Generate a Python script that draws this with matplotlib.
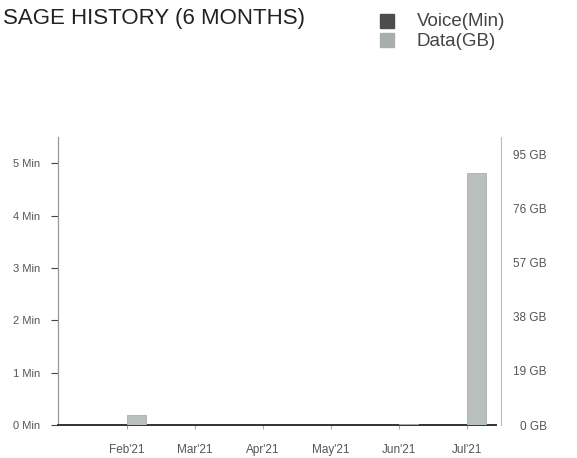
import numpy as np
import matplotlib.pyplot as plt
from matplotlib.patches import Rectangle

plt.rcParams['font.family'] = ['Liberation Sans', 'DejaVu Sans']

# data
months = ["Feb'21", "Mar'21", "Apr'21", "May'21", "Jun'21", "Jul'21"]
voice_min = [0, 0, 0, 0, 0, 0]
data_gb = [3.5, 0, 0, 0, 0.4, 88.7]
min_ticks = [0, 1, 2, 3, 4, 5]
min_labels = ["0 Min", "1 Min", "2 Min", "3 Min", "4 Min", "5 Min"]
gb_ticks = [0, 19, 38, 57, 76, 95]
gb_labels = ["0 GB", "19 GB", "38 GB", "57 GB", "76 GB", "95 GB"]

voice_col = "#4d4d4d"
data_col = "#b9c0bc"
tick_col = "#555555"

fig = plt.figure(figsize=(5.77, 4.58), dpi=100)
ax = fig.add_axes([0.1005, 0.072, 0.7675, 0.629])
ax2 = ax.twinx()

x = np.arange(len(months))
w = 0.28
ax.bar(x - w, voice_min, width=w, align='edge', color=voice_col)
ax2.bar(x, data_gb, width=w, align='edge', color=data_col, edgecolor="#a9b0ac", linewidth=0.6)

ax.set_xlim(-1.01, 5.5)
ax.set_ylim(0, 5.5)
ax2.set_ylim(0, 101.3)

ax.set_xticks(x)
ax.set_xticklabels(months)
ax.set_yticks(min_ticks)
ax.set_yticklabels(min_labels)
ax2.set_yticks(gb_ticks)
ax2.set_yticklabels(gb_labels, ha='right')

ax.tick_params(axis='x', length=3, color="#aaaaaa", pad=11, labelsize=8.5, labelcolor=tick_col)
ax.tick_params(axis='y', length=5, color="#444444", pad=8, labelsize=8, labelcolor=tick_col)
ax2.tick_params(axis='y', length=0, pad=33, labelsize=8.5, labelcolor=tick_col)

for a in (ax, ax2):
    a.spines['top'].set_visible(False)
    a.spines['left'].set_visible(False)
    a.spines['right'].set_visible(False)
    a.spines['bottom'].set_visible(False)
ax.spines['left'].set_visible(True)
ax.spines['left'].set_color("#999999")
ax.spines['left'].set_linewidth(0.9)
ax.spines['bottom'].set_visible(True)
ax.spines['bottom'].set_color("#333333")
ax.spines['bottom'].set_linewidth(1.4)
ax.spines['bottom'].set_bounds(-1.01, 5.43)
ax2.spines['right'].set_visible(True)
ax2.spines['right'].set_color("#bbbbbb")
ax2.spines['right'].set_linewidth(0.8)
ax2.spines['right'].set_linestyle((0, (2, 1)))

fig.text(0.005, 0.9476, "SAGE HISTORY (6 MONTHS)", fontsize=16, color="#222222", va='baseline')

# legend
fig.add_artist(Rectangle((380 / 577, 1 - 28 / 458), 14 / 577, 14 / 458,
                         transform=fig.transFigure, color=voice_col))
fig.add_artist(Rectangle((380 / 577, 1 - 47 / 458), 14 / 577, 14 / 458,
                         transform=fig.transFigure, color="#a8aeab"))
fig.text(417 / 577, 1 - 26 / 458, "Voice(Min)", fontsize=13.5, color="#444444", va='baseline')
fig.text(417 / 577, 1 - 46 / 458, "Data(GB)", fontsize=13.5, color="#444444", va='baseline')

fig.savefig("out.png", dpi=100)
